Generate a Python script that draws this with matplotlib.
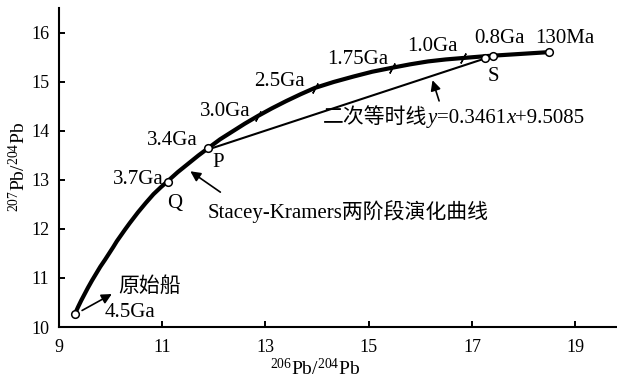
import matplotlib
matplotlib.use("Agg")
import matplotlib.pyplot as plt

plt.rcParams['font.family'] = ['Liberation Serif', 'Noto Sans CJK SC']
plt.rcParams['mathtext.fontset'] = 'custom'
plt.rcParams['mathtext.rm'] = 'Liberation Serif'
plt.rcParams['mathtext.it'] = 'Liberation Serif:italic'

# Stacey-Kramers two-stage lead evolution curve (206Pb/204Pb, 207Pb/204Pb)
curve_x = [9.31, 9.37, 9.43, 9.50, 9.56, 9.64, 9.72, 9.80, 9.89, 9.97, 10.05,
           10.12, 10.20, 10.28, 10.37, 10.45, 10.53, 10.68, 10.83, 10.97, 11.11,
           11.30, 11.50, 11.70, 11.89, 12.12, 12.36, 12.60, 12.86, 13.12,
           13.40, 13.68, 13.96, 14.32, 14.70, 15.07, 15.45, 15.80, 16.15,
           16.49, 16.83, 17.30, 17.90, 18.50]
curve_y = [10.27, 10.41, 10.54, 10.68, 10.80, 10.95, 11.09, 11.23, 11.37, 11.50,
           11.63, 11.75, 11.87, 11.99, 12.12, 12.23, 12.34, 12.53, 12.71, 12.85,
           12.98, 13.16, 13.33, 13.50, 13.65, 13.83, 13.99, 14.15, 14.31, 14.46,
           14.61, 14.75, 14.88, 15.00, 15.11, 15.21, 15.29, 15.36, 15.42,
           15.46, 15.49, 15.53, 15.57, 15.61]

# Age tick marks on the curve
tick_ages = ["3.0Ga", "2.5Ga", "1.75Ga", "1.0Ga"]
tick_x = [12.86, 13.96, 15.45, 16.83]
tick_y = [14.31, 14.88, 15.29, 15.49]

# Open-circle nodes: 4.5Ga, Q (3.7Ga), P (3.4Ga), S, 0.8Ga, 130Ma
node_x = [9.31, 11.11, 11.89, 17.26, 17.40, 18.50]
node_y = [10.27, 12.96, 13.65, 15.48, 15.53, 15.61]

# Secondary isochron y = 0.3461x + 9.5085, between P and S
iso_slope = 0.3461
iso_intercept = 9.5085
iso_x = [11.89, 17.26]
iso_y = [iso_slope * v + iso_intercept for v in iso_x]

fig = plt.figure(figsize=(6.17, 3.80), dpi=100)
ax = fig.add_axes([59 / 617, 53 / 380, 558 / 617, 319 / 380])

ax.plot(curve_x, curve_y, color='black', lw=3.0, solid_capstyle='round',
        solid_joinstyle='round', zorder=3)
ax.plot(iso_x, iso_y, color='black', lw=1.5, zorder=2)
ax.plot(tick_x, tick_y, linestyle='none', marker=(2, 2, -28), markersize=8,
        markeredgewidth=1.0, color='black', zorder=4)
ax.plot(node_x, node_y, linestyle='none', marker='o', markersize=5.5,
        markerfacecolor='white', markeredgecolor='black', markeredgewidth=1.1,
        zorder=5)

ax.set_xlim(9, 19.81)
ax.set_ylim(10, 16.51)
ax.set_xticks([9, 11, 13, 15, 17, 19])
ax.set_yticks([10, 11, 12, 13, 14, 15, 16])
ax.tick_params(direction='in', length=4, width=1.4, labelsize=13, pad=7)
ax.tick_params(axis='x', pad=9)
for side in ['top', 'right']:
    ax.spines[side].set_visible(False)
for side in ['left', 'bottom']:
    ax.spines[side].set_linewidth(1.5)

fs = 15
ax.text(10.38, 10.30, "4.5Ga", fontsize=fs, ha='center', va='center')
ax.text(10.76, 10.81, "原始船", fontsize=fs, ha='center', va='center')
ax.text(10.53, 13.0, "3.7Ga", fontsize=fs, ha='center', va='center')
ax.text(11.25, 12.53, "Q", fontsize=fs, ha='center', va='center')
ax.text(11.19, 13.80, "3.4Ga", fontsize=fs, ha='center', va='center')
ax.text(12.08, 13.35, "P", fontsize=fs, ha='center', va='center')
ax.text(12.22, 14.40, "3.0Ga", fontsize=fs, ha='center', va='center')
ax.text(13.28, 15.01, "2.5Ga", fontsize=fs, ha='center', va='center')
ax.text(14.78, 15.46, "1.75Ga", fontsize=fs, ha='center', va='center')
ax.text(16.23, 15.72, "1.0Ga", fontsize=fs, ha='center', va='center')
ax.text(17.53, 15.89, "0.8Ga", fontsize=fs, ha='center', va='center')
ax.text(18.79, 15.89, "130Ma", fontsize=fs, ha='center', va='center')
ax.text(17.41, 15.12, "S", fontsize=fs, ha='center', va='center')

# Isochron equation: Chinese caption followed by the equation with italic x, y
parts = [("二次等时线", 'normal'), ("y", 'italic'), ("=0.3461", 'normal'),
         ("x", 'italic'), ("+9.5085", 'normal')]
prev = ax.text(14.12, 14.16, parts[0][0], fontsize=fs, ha='left',
               va='baseline')
for txt, style in parts[1:]:
    prev = ax.annotate(txt, xy=(1, 0), xycoords=prev, fontsize=fs,
                       style=style, ha='left', va='bottom')

ax.text(11.87, 12.35, "Stacey-Kramers两阶段演化曲线", fontsize=fs,
        ha='left', va='center')

arrow = dict(arrowstyle='-|>', color='black', lw=1.2, mutation_scale=15)
ax.annotate("", xy=(10.07, 10.70), xytext=(9.40, 10.31), arrowprops=arrow)
ax.annotate("", xy=(11.50, 13.21), xytext=(12.17, 12.72), arrowprops=arrow)
ax.annotate("", xy=(16.22, 15.09), xytext=(16.38, 14.56), arrowprops=arrow)

fig.text(315 / 617, 1 - 368 / 380, "$^{206}$Pb/$^{204}$Pb", fontsize=14,
         ha='center', va='center')
fig.text(19 / 617, 1 - 167 / 380, "$^{207}$Pb/$^{204}$Pb", fontsize=14,
         ha='center', va='center', rotation=90)

fig.savefig("out.png", dpi=100, facecolor='white')
